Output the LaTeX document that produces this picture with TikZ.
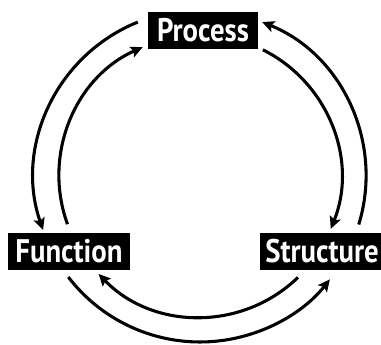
\documentclass[tikz,border=0pt]{standalone}
\usepackage{fontspec}
\setmainfont{PT Sans}
\newfontfamily\labelfont[FakeStretch=0.88]{PT Sans Bold}
\usetikzlibrary{arrows.meta}
\tikzset{
  lbl/.style={fill=black, text=white, inner sep=0pt, font=\labelfont\fontsize{24.5pt}{24.5pt}\selectfont, minimum height=27.75pt, anchor=center},
  arr/.style={line width=2.3pt, -{Stealth[length=9pt,width=8.5pt,inset=1.8pt]}},
}
\def\ro{124.5pt}
\def\ri{105.75pt}
\begin{document}
\begin{tikzpicture}[x=1pt,y=1pt]
\useasboundingbox (0,0) rectangle (285.75,258.75);
\coordinate (c) at (150,126.75);
\node[lbl, minimum width=82.5pt] (process) at (152.25,235.9) {Process};
\node[lbl, minimum width=91.5pt] (function) at (51.75,70.1) {Function};
\node[lbl, minimum width=90.75pt, text width=90.75pt, align=left] (structure) at (240.4,70.1) {\hspace*{4pt}Structure};
% outer arcs
\draw[arr] ([shift={(112:\ro)}]c) arc[start angle=112, end angle=199, radius=\ro];
\draw[arr] ([shift={(-17:\ro)}]c) arc[start angle=-17, end angle=68, radius=\ro];
\draw[arr] ([shift={(217.5:\ro)}]c) arc[start angle=217.5, end angle=321.5, radius=\ro];
% inner arcs
\draw[arr] ([shift={(200:\ri)}]c) arc[start angle=200, end angle=114, radius=\ri];
\draw[arr] ([shift={(63.5:\ri)}]c) arc[start angle=63.5, end angle=-22, radius=\ri];
\draw[arr] ([shift={(314:\ri)}]c) arc[start angle=314, end angle=224, radius=\ri];
\end{tikzpicture}
\end{document}
